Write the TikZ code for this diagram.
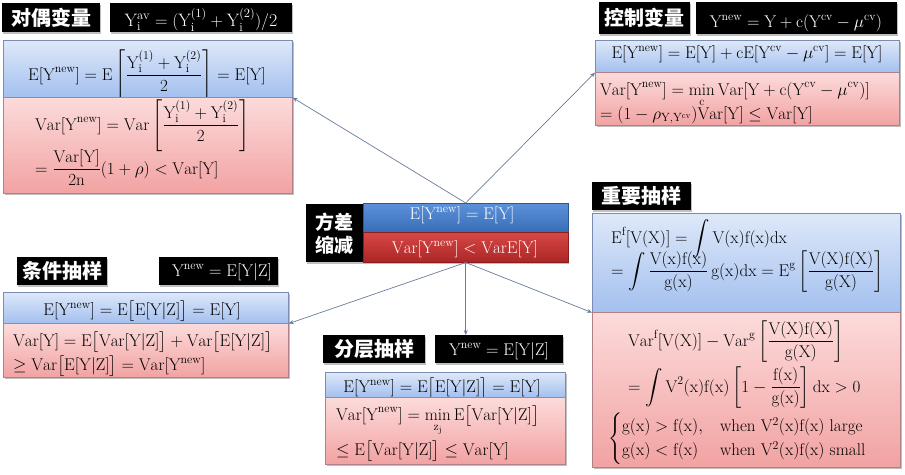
\documentclass[tikz,border=0pt]{standalone}
\usepackage{amsmath}
\usepackage{fontspec}
\newfontfamily\cjk{Noto Sans CJK SC}
\usetikzlibrary{arrows.meta,shadows}
\definecolor{bluetop}{RGB}{222,232,249}
\definecolor{bluebot}{RGB}{163,192,239}
\definecolor{redtop}{RGB}{252,219,219}
\definecolor{redbot}{RGB}{242,162,162}
\definecolor{blueline}{RGB}{122,140,178}
\definecolor{redline}{RGB}{176,128,136}
\definecolor{connc}{RGB}{104,124,156}
\definecolor{cbluetop}{RGB}{92,146,218}
\definecolor{cbluebot}{RGB}{56,108,184}
\definecolor{credtop}{RGB}{214,72,70}
\definecolor{credbot}{RGB}{172,38,38}
\tikzset{
  shad/.style={drop shadow={shadow xshift=1.2pt,shadow yshift=-1.5pt,opacity=0.25,fill=black}},
  blk/.style={fill=black,inner sep=0pt,anchor=north west,shad},
  bbox/.style={top color=bluetop,bottom color=bluebot,draw=blueline,line width=0.6pt,inner sep=0pt,anchor=north west,shad},
  rbox/.style={top color=redtop,bottom color=redbot,draw=redline,line width=0.6pt,inner sep=0pt,anchor=north west,shad},
  cbbox/.style={top color=cbluetop,bottom color=cbluebot,draw=cbluebot!80!black,line width=0.5pt,inner sep=0pt,anchor=north west,shad},
  crbox/.style={top color=credtop,bottom color=credbot,draw=credbot!80!black,line width=0.5pt,inner sep=0pt,anchor=north west,shad},
  lab/.style={text=white,font=\cjk\bfseries\fontsize{20}{22}\selectfont,inner sep=0pt},
  wf/.style={text=white,font=\fontsize{17}{20}\selectfont,inner sep=0pt},
  ff/.style={text=black,font=\fontsize{17}{20}\selectfont,inner sep=0pt},
  conn/.style={draw=connc,line width=0.7pt,-{Stealth[length=5pt,width=4pt]}},
}
\begin{document}
\begin{tikzpicture}[x=1pt,y=-1pt]
\useasboundingbox (0,0) rectangle (905,474);
\fill[white] (0,0) rectangle (905,474);

% ---- top left: antithetic
\node[blk,minimum width=98pt,minimum height=29pt] (l1) at (2,3) {};
\node[lab] (l1t) at (l1.center) {对偶变量};
\node[blk,minimum width=182pt,minimum height=29pt] (f1) at (110,3) {};
\node[wf,anchor=base,font=\fontsize{18}{20}\selectfont] (f1t) at (201,26) {$\mathrm{Y_i^{av} = (Y_i^{(1)} + Y_i^{(2)})/2}$};
\node[bbox,minimum width=289pt,minimum height=57pt] (b1) at (3,40) {};
\node[ff,anchor=base] (b1t) at (147,80) {$\displaystyle\mathrm{E[Y^{new}] = E\left[\frac{Y_i^{(1)} + Y_i^{(2)}}{2}\right] = E[Y]}$};
\node[rbox,minimum width=289pt,minimum height=96pt] (r1) at (3,97) {};
\node[ff,anchor=base west] (r1a) at (35,130) {$\displaystyle\mathrm{Var[Y^{new}] = Var\left[\frac{Y_i^{(1)} + Y_i^{(2)}}{2}\right]}$};
\node[ff,anchor=base west] (r1b) at (35,174) {$\displaystyle\mathrm{= \frac{Var[Y]}{2n}(1 + \rho) < Var[Y]}$};

% ---- top right: control variates
\node[blk,minimum width=91pt,minimum height=32pt] (l2) at (599,2) {};
\node[lab] (l2t) at (l2.center) {控制变量};
\node[blk,minimum width=201pt,minimum height=32pt] (f2) at (696,2) {};
\node[wf,anchor=base] (f2t) at (796,27) {$\mathrm{Y^{new} = Y + c(Y^{cv} - \mu^{cv})}$};
\node[bbox,minimum width=304pt,minimum height=32pt] (b2) at (595,40) {};
\node[ff,anchor=base] (b2t) at (747,58) {$\mathrm{E[Y^{new}] = E[Y] + cE[Y^{cv} - \mu^{cv}] = E[Y]}$};
\node[rbox,minimum width=304pt,minimum height=53pt] (r2) at (595,72) {};
\node[ff,anchor=base west] (r2a) at (600,95) {$\displaystyle\mathrm{Var[Y^{new}] = \min_c Var[Y + c(Y^{cv} - \mu^{cv})]}$};
\node[ff,anchor=base west] (r2b) at (600,119) {$\mathrm{= (1 - \rho_{Y,Y^{cv}})Var[Y] \leq Var[Y]}$};

% ---- centre
\node[blk,minimum width=57pt,minimum height=58pt] (l0) at (306,204) {};
\node[lab,align=center,font=\cjk\bfseries\fontsize{19}{23}\selectfont] (l0t) at (l0.center) {方差\\缩减};
\node[cbbox,minimum width=205pt,minimum height=29pt] (b0) at (363,203) {};
\node[wf,anchor=base] (b0t) at (462,219) {$\mathrm{E[Y^{new}] = E[Y]}$};
\node[crbox,minimum width=205pt,minimum height=30pt] (r0) at (363,232) {};
\node[wf,anchor=base] (r0t) at (465,253) {$\mathrm{Var[Y^{new}] < VarE[Y]}$};

% ---- bottom left: conditional sampling
\node[blk,minimum width=90pt,minimum height=28pt] (l3) at (17,257) {};
\node[lab] (l3t) at (l3.center) {条件抽样};
\node[blk,minimum width=119pt,minimum height=28pt] (f3) at (159,257) {};
\node[wf,anchor=base] (f3t) at (222,276) {$\mathrm{Y^{new} = E[Y|Z]}$};
\node[bbox,minimum width=285pt,minimum height=31pt] (b3) at (3,292) {};
\node[ff,anchor=base] (b3t) at (142,315) {$\mathrm{E[Y^{new}] = E\big[E[Y|Z]\big] = E[Y]}$};
\node[rbox,minimum width=285pt,minimum height=54pt] (r3) at (3,323) {};
\node[ff,anchor=base west] (r3a) at (13,346) {$\mathrm{Var[Y] = E\big[Var[Y|Z]\big] + Var\big[E[Y|Z]\big]}$};
\node[ff,anchor=base west] (r3b) at (13,370) {$\mathrm{\geq Var\big[E[Y|Z]\big] = Var[Y^{new}]}$};

% ---- bottom middle: stratified sampling
\node[blk,minimum width=102pt,minimum height=28pt] (l4) at (323,335) {};
\node[lab] (l4t) at (l4.center) {分层抽样};
\node[blk,minimum width=128pt,minimum height=28pt] (f4) at (435,335) {};
\node[wf,anchor=base] (f4t) at (499,355) {$\mathrm{Y^{new} = E[Y|Z]}$};
\node[bbox,minimum width=240pt,minimum height=25pt] (b4) at (325,372) {};
\node[ff,anchor=base] (b4t) at (442,392) {$\mathrm{E[Y^{new}] = E\big[E[Y|Z]\big] = E[Y]}$};
\node[rbox,minimum width=240pt,minimum height=67pt] (r4) at (325,397) {};
\node[ff,anchor=base west] (r4a) at (336,420) {$\displaystyle\mathrm{Var[Y^{new}] = \min_{z_j} E\big[Var[Y|Z]\big]}$};
\node[ff,anchor=base west] (r4b) at (336,455) {$\mathrm{\leq E\big[Var[Y|Z]\big] \leq Var[Y]}$};

% ---- right: importance sampling
\node[blk,minimum width=99pt,minimum height=28pt] (l5) at (592,182) {};
\node[lab] (l5t) at (l5.center) {重要抽样};
\node[bbox,minimum width=308pt,minimum height=99pt] (b5) at (592,213) {};
\node[ff,anchor=base west] (b5a) at (611,243) {$\displaystyle\mathrm{E^f[V(X)] = \int V(x)f(x)dx}$};
\node[ff,anchor=base west] (b5b) at (611,276) {$\displaystyle\mathrm{= \int \frac{V(x)f(x)}{g(x)}\,g(x)dx = E^g\left[\frac{V(X)f(X)}{g(X)}\right]}$};
\node[rbox,minimum width=308pt,minimum height=155pt] (r5) at (592,312) {};
\node[ff,anchor=base west] (r5a) at (628,346) {$\displaystyle\mathrm{Var^f[V(X)] - Var^g\left[\frac{V(X)f(X)}{g(X)}\right]}$};
\node[ff,anchor=base west] (r5b) at (628,392) {$\displaystyle\mathrm{= \int V^2(x)f(x)\left[1 - \frac{f(x)}{g(x)}\right]dx > 0}$};
\node[ff,anchor=west] (r5c) at (608,439) {$\begin{cases} \mathrm{g(x) > f(x),} & \mathrm{when\ V^2(x)f(x)\ large}\\ \mathrm{g(x) < f(x)} & \mathrm{when\ V^2(x)f(x)\ small}\end{cases}$};

% ---- connectors
\draw[conn] (b0.north) -- (b1.south east);
\draw[conn] (b0.north) -- (b2.south west);
\draw[conn] (r0.south) -- (b3.south east);
\draw[conn] (r0.south) -- (r0.south |- f4.north);
\draw[conn] (r0.south) -- (b5.south west);
\end{tikzpicture}
\end{document}
